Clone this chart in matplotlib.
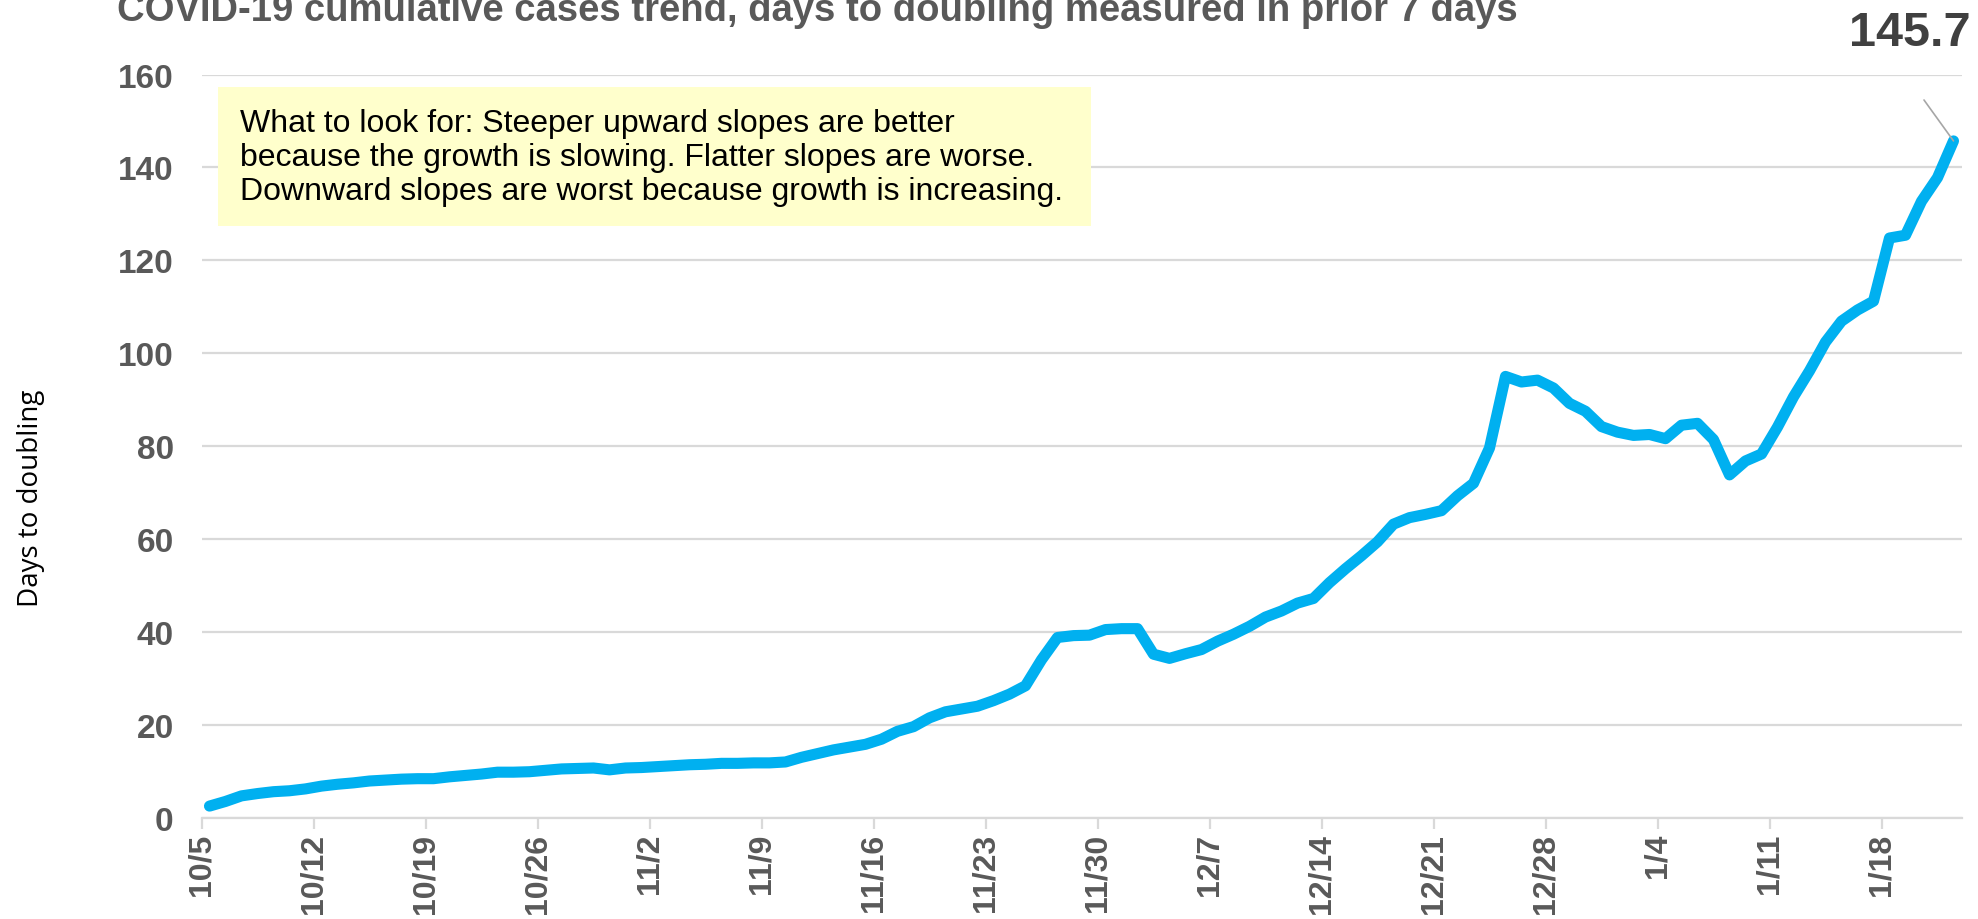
import numpy as np
import matplotlib.pyplot as plt
from matplotlib.patches import Rectangle

# days to doubling, one value per day from 10/5 to 1/22
days_to_double = [
    2.5, 3.5, 4.7, 5.2, 5.6, 5.8, 6.2, 6.8, 7.2, 7.5,
    7.9, 8.1, 8.3, 8.4, 8.4, 8.8, 9.1, 9.4, 9.8, 9.8,
    9.9, 10.2, 10.5, 10.6, 10.7, 10.3, 10.7, 10.8, 11.0, 11.2,
    11.4, 11.5, 11.7, 11.7, 11.8, 11.8, 12.0, 13.0, 13.8, 14.6,
    15.2, 15.8, 16.9, 18.6, 19.6, 21.5, 22.8, 23.4, 24.0, 25.2,
    26.6, 28.4, 34.0, 38.8, 39.2, 39.3, 40.5, 40.7, 40.7, 35.2,
    34.3, 35.3, 36.2, 38.0, 39.5, 41.2, 43.2, 44.5, 46.2, 47.2,
    50.6, 53.6, 56.4, 59.4, 63.2, 64.6, 65.3, 66.1, 69.3, 72.0,
    79.6, 95.0, 93.8, 94.2, 92.5, 89.2, 87.5, 84.2, 83.0, 82.3,
    82.5, 81.6, 84.5, 84.9, 81.4, 73.8, 76.8, 78.3, 84.1, 90.6,
    96.2, 102.4, 106.9, 109.3, 111.2, 124.8, 125.4, 132.7, 137.8, 145.7,
]
week_labels = ["10/5", "10/12", "10/19", "10/26", "11/2", "11/9", "11/16", "11/23",
               "11/30", "12/7", "12/14", "12/21", "12/28", "1/4", "1/11", "1/18"]
y_ticks = [0, 20, 40, 60, 80, 100, 120, 140, 160]

title = "COVID-19 cumulative cases trend, days to doubling measured in prior 7 days"
note_lines = ["What to look for: Steeper upward slopes are better",
              "because the growth is slowing. Flatter slopes are worse.",
              "Downward slopes are worst because growth is increasing."]
last_label = "145.7"

plt.rcParams['font.family'] = ['Liberation Sans', 'DejaVu Sans']

W, H = 1978, 920
fig = plt.figure(figsize=(W / 100, H / 100), dpi=100)
ax = fig.add_axes([201.5 / W, 1 - 818.7 / H, 1760 / W, 743.2 / H])

x = np.arange(len(days_to_double)) + 0.5
ax.plot(x, days_to_double, color='#00B0F0', lw=8,
        solid_joinstyle='round', solid_capstyle='round', zorder=3, clip_on=False)

ax.set_xlim(0, len(days_to_double))
ax.set_ylim(0, 160)
ax.set_yticks(y_ticks)
ax.set_xticks(np.arange(len(week_labels)) * 7)
ax.set_xticklabels(week_labels, rotation=90)

ax.grid(axis='y', color='#D9D9D9', lw=1.6, zorder=0)
for s in ['top', 'right', 'left']:
    ax.spines[s].set_visible(False)
ax.spines['bottom'].set_color('#D9D9D9')
ax.spines['bottom'].set_linewidth(1.6)
ax.tick_params(axis='y', length=0, pad=20, labelsize=24, labelcolor='#595959')
ax.tick_params(axis='x', length=8, width=1.6, color='#D9D9D9', pad=3,
               labelsize=23, labelcolor='#595959')
for lbl in ax.get_xticklabels() + ax.get_yticklabels():
    lbl.set_fontweight('bold')

# title sits at the top edge, partly cut like in the original
fig.text(117 / W, 1 - 21 / H, title, fontsize=27.5, fontweight='bold',
         color='#595959', va='baseline', ha='left')

# note box
fig.patches.append(Rectangle((218 / W, 1 - 227 / H), 873 / W, 139 / H,
                             transform=fig.transFigure, facecolor='#FFFFCC',
                             edgecolor='none', zorder=1))
for k, line in enumerate(note_lines):
    fig.text(240 / W, 1 - (132 + 34 * k) / H, line, fontsize=23,
             color='black', va='baseline', ha='left', zorder=2)

# last value label
fig.text(1910 / W, 1 - 46.5 / H, last_label, fontsize=35, fontweight='bold',
         color='#404040', ha='center', va='baseline')
ax.annotate('', xy=(x[-1], days_to_double[-1]), xytext=(1924, H - 101),
            textcoords='figure pixels',
            arrowprops=dict(arrowstyle='-', color='#A6A6A6', lw=1.2,
                            shrinkA=0, shrinkB=0))

fig.text(31 / W, 1 - 498 / H, "Days to doubling", rotation=90, fontsize=20,
         family=['Open Sans', 'DejaVu Sans'], color='black', ha='center', va='center')

fig.savefig('out.png', dpi=100)
